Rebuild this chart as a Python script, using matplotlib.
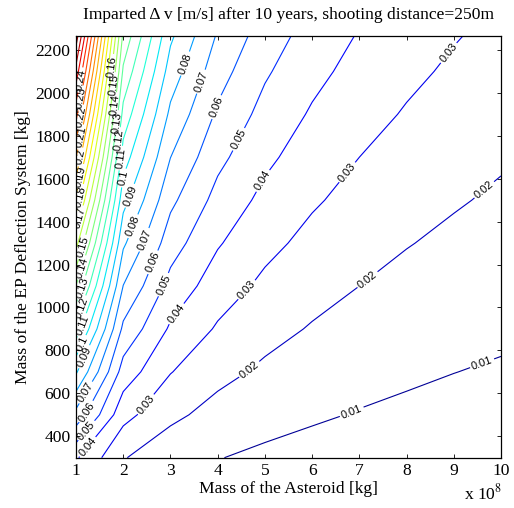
import numpy as np
import matplotlib
matplotlib.use('Agg')
import matplotlib.pyplot as plt
from matplotlib.colors import Normalize

# Asteroid mass (x 1e8 kg)
asteroid_mass = [1, 2, 3, 4, 5, 6, 7, 8, 9, 10]
# EP deflection system mass (kg)
ep_mass = [300, 500, 700, 900, 1100, 1300, 1500, 1700, 1900, 2100, 2265]
# Imparted delta-v (m/s), rows follow ep_mass, columns follow asteroid_mass
dv_300 = [0.0412, 0.0206, 0.0137, 0.0103, 0.0082, 0.0069, 0.0059, 0.0051, 0.0046, 0.0041]
dv_500 = [0.0666, 0.0333, 0.0222, 0.0166, 0.0133, 0.0111, 0.0095, 0.0083, 0.0074, 0.0067]
dv_700 = [0.0913, 0.0457, 0.0304, 0.0228, 0.0183, 0.0152, 0.0130, 0.0114, 0.0101, 0.0091]
dv_900 = [0.1157, 0.0578, 0.0386, 0.0289, 0.0231, 0.0193, 0.0165, 0.0145, 0.0129, 0.0116]
dv_1100 = [0.1397, 0.0698, 0.0466, 0.0349, 0.0279, 0.0233, 0.0200, 0.0175, 0.0155, 0.0140]
dv_1300 = [0.1634, 0.0817, 0.0545, 0.0409, 0.0327, 0.0272, 0.0233, 0.0204, 0.0182, 0.0163]
dv_1500 = [0.1870, 0.0935, 0.0623, 0.0467, 0.0374, 0.0312, 0.0267, 0.0234, 0.0208, 0.0187]
dv_1700 = [0.2103, 0.1052, 0.0701, 0.0526, 0.0421, 0.0351, 0.0300, 0.0263, 0.0234, 0.0210]
dv_1900 = [0.2335, 0.1167, 0.0778, 0.0584, 0.0467, 0.0389, 0.0334, 0.0292, 0.0259, 0.0233]
dv_2100 = [0.2565, 0.1283, 0.0855, 0.0641, 0.0513, 0.0428, 0.0366, 0.0321, 0.0285, 0.0257]
dv_2265 = [0.2754, 0.1377, 0.0918, 0.0689, 0.0551, 0.0459, 0.0393, 0.0344, 0.0306, 0.0275]

levels = [0.01, 0.02, 0.03, 0.04, 0.05, 0.06, 0.07, 0.08, 0.09, 0.10,
          0.11, 0.12, 0.13, 0.14, 0.15, 0.16, 0.17, 0.18, 0.19, 0.20,
          0.21, 0.22, 0.23, 0.24, 0.25, 0.26, 0.27]
xticks = [1, 2, 3, 4, 5, 6, 7, 8, 9, 10]
yticks = [400, 600, 800, 1000, 1200, 1400, 1600, 1800, 2000, 2200]

title = 'Imparted Δ v [m/s] after 10 years, shooting distance=250m'
xlabel = 'Mass of the Asteroid [kg]'
ylabel = 'Mass of the EP Deflection System [kg]'

# approximate label anchor points (data coords)
label_pos = {
    0.01: [(6.85, 508), (9.62, 728)],
    0.02: [(4.68, 709), (7.23, 1114), (9.70, 1534)],
    0.03: [(2.5, 545), (4.68, 1069), (6.76, 1627), (8.86, 2192)],
    0.04: [(1.25, 350), (3.16, 965), (5.0, 1585)],
    0.05: [(1.21, 429), (2.88, 1104), (4.47, 1781)],
    0.06: [(1.23, 513), (2.67, 1207), (3.96, 1935)],
    0.07: [(1.19, 606), (2.46, 1314), (3.65, 2052)],
    0.08: [(2.25, 1375), (3.27, 2140)],
    0.09: [(1.19, 769), (2.1, 1524)],
    0.10: [(1.08, 835), (2.0, 1604)],
    0.11: [(1.13, 919), (1.93, 1697)],
    0.12: [(1.08, 1003), (1.89, 1781)],
    0.13: [(1.08, 1096), (1.87, 1860)],
    0.14: [(1.08, 1189), (1.83, 1944)],
    0.15: [(1.13, 1282), (1.78, 2038)],
    0.16: [(1.76, 2122)],
    0.17: [(1.13, 1415)],
    0.18: [(1.13, 1515)],
    0.19: [(1.13, 1609)],
    0.20: [(1.08, 1702)],
    0.21: [(1.08, 1795)],
    0.22: [(1.08, 1888)],
    0.23: [(1.08, 1977)],
    0.24: [(1.08, 2061)],
}

plt.rcParams['font.family'] = ['Liberation Serif', 'DejaVu Serif']
plt.rcParams['mathtext.fontset'] = 'stix'

Z = np.array([dv_300, dv_500, dv_700, dv_900, dv_1100, dv_1300, dv_1500,
              dv_1700, dv_1900, dv_2100, dv_2265])
X, Y = np.meshgrid(asteroid_mass, ep_mass)

fig = plt.figure(figsize=(5.14, 5.08), dpi=100)
ax = fig.add_axes([76 / 514, (508 - 457.7) / 508, 425 / 514, (457.7 - 36) / 508])

norm = Normalize(vmin=Z.min(), vmax=Z.max())
cmap = plt.get_cmap('jet')

for lev in levels:
    cs = ax.contour(X, Y, Z, levels=[lev], colors=[cmap(norm(lev))],
                    linewidths=0.8)
    pts = label_pos.get(lev)
    if pts:
        with plt.rc_context({'font.family': ['Liberation Sans', 'DejaVu Sans']}):
            ax.clabel(cs, manual=pts, fmt='%g', fontsize=8,
                      colors='k', inline=True, inline_spacing=2)

ax.set_xlim(1, 10)
ax.set_ylim(300, 2265)
ax.set_xticks(xticks)
ax.set_yticks(yticks)
ax.tick_params(direction='in', length=3, width=0.6, top=True, right=True,
               labelsize=12.6, pad=4)
for s in ax.spines.values():
    s.set_linewidth(0.9)

ax.set_title(title, fontsize=12.6, pad=12)
ax.set_xlabel(xlabel, fontsize=12.6, labelpad=1)
ax.set_ylabel(ylabel, fontsize=12.6, labelpad=3)
fig.text(0.94, 0.028, r'x 10$^{8}$', fontsize=12.6, ha='center', va='center')

fig.savefig('out.png', dpi=100)
